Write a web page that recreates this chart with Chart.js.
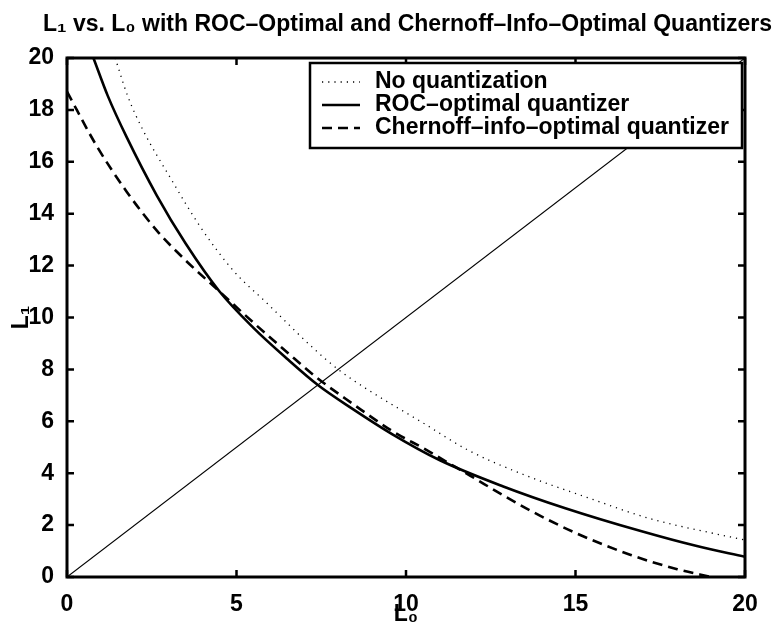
<!DOCTYPE html>
<html><head><meta charset="utf-8">
<script src="https://cdn.jsdelivr.net/npm/chart.js@4/dist/chart.umd.min.js"></script>
<style>html,body{margin:0;padding:0;background:#fff}#wrap{width:775px;height:632px}</style>
</head><body><div id="wrap"><canvas id="c" width="775" height="632"></canvas></div>
<script>
const titleText = 'L\u2081 vs. L\u2080 with ROC\u2013Optimal and Chernoff\u2013Info\u2013Optimal Quantizers';
const xAxisLabel = 'L\u2080';
const yAxisLabel = 'L\u2081';
const seriesLabels = ['No quantization', 'ROC\u2013optimal quantizer', 'Chernoff\u2013info\u2013optimal quantizer'];
const xTicks = [0, 5, 10, 15, 20];
const yTicks = [0, 2, 4, 6, 8, 10, 12, 14, 16, 18, 20];

const noQuantX = [1.42, 1.8, 2.25, 3.04, 3.93, 4.91, 5.90, 7.28, 8.0, 8.8, 10.55, 11.8, 13.5, 15.4, 17.2, 20];
const noQuantY = [20, 18.5, 17.2, 15.4, 13.5, 11.8, 10.55, 8.8, 8.0, 7.28, 5.9, 4.91, 3.93, 3.04, 2.25, 1.42];

const rocX = [0.78, 1.2, 1.76, 2.65, 3.5, 4.5, 5.5, 6.5, 7.4, 8.4, 9.6, 11.0, 12.85, 14.7, 16.95, 18.55, 20];
const rocY = [20, 18.55, 16.95, 14.7, 12.85, 11.0, 9.6, 8.4, 7.4, 6.5, 5.5, 4.5, 3.5, 2.65, 1.76, 1.2, 0.78];

const cherX = [0, 0.88, 1.76, 2.65, 3.5, 4.5, 5.5, 6.5, 7.4, 8.4, 9.6, 10.6, 11.05, 11.9, 12.85, 13.68, 15.0, 16.63, 18.0, 19.0];
const cherY = [18.7, 16.6, 14.85, 13.35, 12.2, 11.0, 9.8, 8.65, 7.65, 6.7, 5.62, 4.9, 4.55, 3.9, 3.16, 2.55, 1.7, 0.85, 0.3, 0];

const diagX = [0, 20];
const diagY = [0, 20];

const FONT = "'Liberation Sans', Arial, Helvetica, sans-serif";
const FS = 23;
const pts = (xs, ys) => xs.map((x, i) => ({x: x, y: ys[i]}));

const styles = [
  {borderWidth: 1.3, borderDash: [1.2, 5]},
  {borderWidth: 2.6, borderDash: []},
  {borderWidth: 2.6, borderDash: [10, 6]}
];

const frame = {
  id: 'frame',
  afterLayout(chart) {
    if (chart.titleBlock) { chart.titleBlock.left = 40; chart.titleBlock.right = 775; }
  },
  afterDatasetsDraw(chart) {
    const {ctx, chartArea: a, scales} = chart;
    ctx.save();
    ctx.strokeStyle = '#000';
    ctx.lineWidth = 2.5;
    ctx.beginPath();
    xTicks.forEach(v => {
      const p = scales.x.getPixelForValue(v);
      ctx.moveTo(p, a.bottom); ctx.lineTo(p, a.bottom - 7);
      ctx.moveTo(p, a.top); ctx.lineTo(p, a.top + 7);
    });
    yTicks.forEach(v => {
      const p = scales.y.getPixelForValue(v);
      ctx.moveTo(a.left, p); ctx.lineTo(a.left + 7, p);
      ctx.moveTo(a.right, p); ctx.lineTo(a.right - 7, p);
    });
    ctx.stroke();
    ctx.lineWidth = 3;
    ctx.strokeRect(a.left, a.top, a.right - a.left, a.bottom - a.top);
    ctx.restore();
  },
  afterDraw(chart) {
    const {ctx, chartArea: a} = chart;
    const bx = 310, by = 63, bw = a.right - 3 - bx, bh = 85;
    ctx.save();
    ctx.fillStyle = '#fff';
    ctx.fillRect(bx, by, bw, bh);
    ctx.strokeStyle = '#000';
    ctx.lineWidth = 2.5;
    ctx.strokeRect(bx, by, bw, bh);
    const rowY = [82, 105, 128];
    seriesLabels.forEach((lab, i) => {
      const y = rowY[i];
      ctx.beginPath();
      ctx.lineWidth = styles[i].borderWidth;
      ctx.setLineDash(styles[i].borderDash);
      ctx.moveTo(322, y); ctx.lineTo(360, y);
      ctx.stroke();
      ctx.setLineDash([]);
      ctx.fillStyle = '#000';
      ctx.font = 'bold ' + FS + 'px ' + FONT;
      ctx.textBaseline = 'middle';
      ctx.textAlign = 'left';
      ctx.fillText(lab, 375, y);
    });
    ctx.restore();
  }
};

const datasets = [
  {label: seriesLabels[0], data: pts(noQuantX, noQuantY), borderColor: '#000', ...styles[0]},
  {label: seriesLabels[1], data: pts(rocX, rocY), borderColor: '#000', ...styles[1]},
  {label: seriesLabels[2], data: pts(cherX, cherY), borderColor: '#000', ...styles[2]},
  {label: 'diagonal', data: pts(diagX, diagY), borderColor: '#000', borderWidth: 1.1, borderDash: []}
].map(d => Object.assign(d, {pointRadius: 0, fill: false, cubicInterpolationMode: 'monotone', backgroundColor: '#000'}));

new Chart(document.getElementById('c'), {
  type: 'line',
  data: {datasets: datasets},
  plugins: [frame],
  options: {
    responsive: false,
    animation: false,
    devicePixelRatio: 1,
    layout: {padding: {top: 0, right: 30, bottom: 0, left: 0}},
    plugins: {
      legend: {display: false},
      tooltip: {enabled: false},
      title: {
        display: true, text: titleText, color: '#000',
        font: {family: FONT, size: FS, weight: 'bold'},
        padding: {top: 11.2, bottom: 19.2}
      }
    },
    scales: {
      x: {
        type: 'linear', min: 0, max: 20,
        afterBuildTicks: s => { s.ticks = xTicks.map(v => ({value: v})); },
        afterFit: s => { s.height = 55; },
        grid: {display: false}, border: {display: false},
        ticks: {color: '#000', padding: 6, maxRotation: 0, font: {family: FONT, size: FS, weight: 'bold'}},
        title: {display: true, text: xAxisLabel, color: '#000', padding: {top: 0, bottom: 4}, font: {family: FONT, size: FS, weight: 'bold'}}
      },
      y: {
        type: 'linear', min: 0, max: 20,
        afterBuildTicks: s => { s.ticks = yTicks.map(v => ({value: v})); },
        afterFit: s => { s.width = 67; },
        grid: {display: false}, border: {display: false},
        ticks: {color: '#000', padding: 5, font: {family: FONT, size: FS, weight: 'bold'}},
        title: {display: true, text: yAxisLabel, color: '#000', padding: {top: 8, bottom: 0}, font: {family: FONT, size: FS, weight: 'bold'}}
      }
    }
  }
});
</script>
</body></html>
